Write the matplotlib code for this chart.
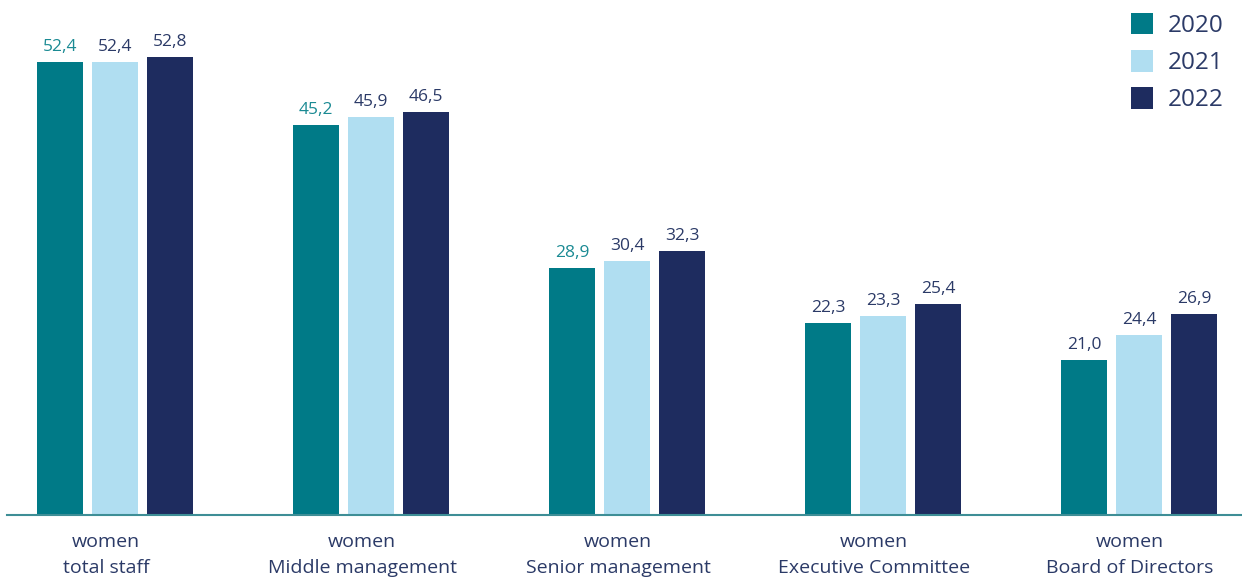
import matplotlib.pyplot as plt
import matplotlib.transforms as mtransforms
import numpy as np

# categories (two-line labels)
categories = ["women\ntotal staff", "women\nMiddle management", "women\nSenior management",
              "women\nExecutive Committee", "women\nBoard of Directors"]
years = ["2020", "2021", "2022"]

# printed value labels
labels_2020 = ["52,4", "45,2", "28,9", "22,3", "21,0"]
labels_2021 = ["52,4", "45,9", "30,4", "23,3", "24,4"]
labels_2022 = ["52,8", "46,5", "32,3", "25,4", "26,9"]

# bar heights as drawn in the picture
heights_2020 = [52.2, 45.0, 28.5, 22.1, 17.9]
heights_2021 = [52.2, 45.9, 29.3, 22.9, 20.8]
heights_2022 = [52.8, 46.5, 30.4, 24.3, 23.2]

bar_colors = ["#007A87", "#B0DEF1", "#1E2C5F"]
text_navy = "#2B3A67"
text_teal = "#1A8A93"

plt.rcParams['font.family'] = ['Open Sans', 'DejaVu Sans']

fig = plt.figure(figsize=(12.42, 5.79), dpi=100)
ax = fig.add_axes([7 / 1242, 64 / 579, 1 - 7 / 1242, 515 / 579])

x = np.arange(len(categories))
width = 46 / 256
step = 55 / 256

all_heights = [heights_2020, heights_2021, heights_2022]
all_labels = [labels_2020, labels_2021, labels_2022]
for k in range(3):
    b = ax.bar(x + (k - 1) * step, all_heights[k], width, color=bar_colors[k], label=years[k], zorder=2)
    for i, rect in enumerate(b):
        col = text_navy
        if k == 0 and i < 3:
            col = text_teal
        ax.annotate(all_labels[k][i], (rect.get_x() + rect.get_width() / 2, rect.get_height()),
                    xytext=(0, 5), textcoords="offset points", ha="center", va="bottom",
                    fontsize=12.5, color=col)

ax.set_xlim((7 - 115) / 256, (1242 - 115) / 256)
ax.set_ylim(0, 515 / 8.674)

for s in ["top", "right", "left"]:
    ax.spines[s].set_visible(False)
ax.spines["bottom"].set_color("#3E8E96")
ax.spines["bottom"].set_linewidth(1.5)
ax.set_yticks([])
ax.set_xticks(x)
ax.set_xticklabels(categories, fontsize=14, color=text_navy, linespacing=1.6)
ax.tick_params(axis="x", length=0, pad=13)

# category labels sit a little left of the bar groups
shift = mtransforms.ScaledTranslation(-9 / 100, 0, fig.dpi_scale_trans)
for lbl in ax.get_xticklabels():
    lbl.set_transform(lbl.get_transform() + shift)

leg = ax.legend(loc="upper right", bbox_to_anchor=(0.997, 1.004), frameon=False, fontsize=17.5,
                labelcolor=text_navy, handlelength=0.9, handleheight=1.0,
                handletextpad=0.6, labelspacing=0.5, borderaxespad=0.2)

fig.savefig("out.png", dpi=100)
